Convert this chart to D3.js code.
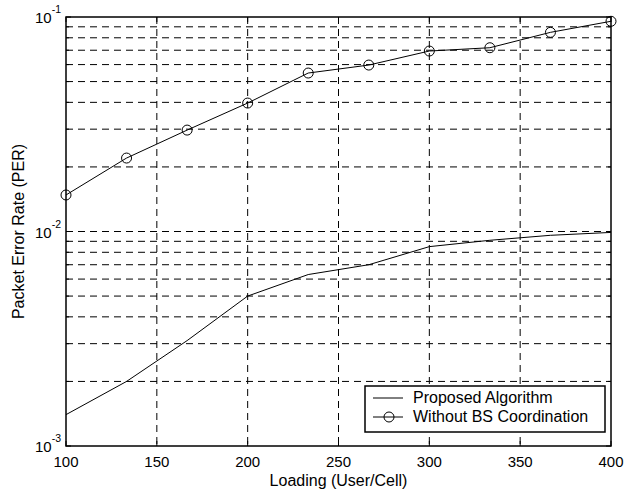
<!DOCTYPE html>
<html>
<head>
<meta charset="utf-8">
<script src="https://cdn.jsdelivr.net/npm/d3@7"></script>
<style>
  body { margin: 0; background: #fff; }
  text { font-family: Arial, "Liberation Sans", Helvetica, sans-serif; fill: #000; }
</style>
</head>
<body>
<div id="chart"></div>
<script>
// data
var loading = [100, 133.33, 166.67, 200, 233.33, 266.67, 300, 333.33, 366.67, 400];
var proposed = [0.0014, 0.002, 0.0031, 0.005, 0.0063, 0.007, 0.0085, 0.0091, 0.0096, 0.0099];
var withoutBS = [0.0148, 0.022, 0.0297, 0.0397, 0.0548, 0.0597, 0.0694, 0.0719, 0.0848, 0.0955];
var xTicks = [100, 150, 200, 250, 300, 350, 400];
var yMajor = [1e-3, 1e-2, 1e-1];
var yExp = ["-3", "-2", "-1"];

var W = 624, H = 497;
var padL = 66, padT = 17, padR = 611, padB = 446;

var svg = d3.select("#chart").append("svg")
  .attr("width", W).attr("height", H);

var x = d3.scaleLinear().domain([100, 400]).range([padL, padR]);
var y = d3.scaleLog().domain([1e-3, 1e-1]).range([padB, padT]);

// minor log positions
var yMinor = [];
[1e-3, 1e-2].forEach(function(d){
  for (var k = 2; k <= 9; k++) yMinor.push(d * k);
});

var grid = svg.append("g").attr("stroke", "#000").attr("stroke-width", 1)
  .attr("stroke-dasharray", "7,5").attr("fill", "none");

// horizontal grid
grid.selectAll("line.h")
  .data(yMinor.concat([1e-2]))
  .enter().append("line")
  .attr("x1", padL).attr("x2", padR)
  .attr("y1", function(d){ return y(d); })
  .attr("y2", function(d){ return y(d); });

// vertical grid
grid.selectAll("line.v")
  .data(xTicks.slice(1, -1))
  .enter().append("line")
  .attr("x1", function(d){ return x(d); })
  .attr("x2", function(d){ return x(d); })
  .attr("y1", padT).attr("y2", padB);

// ticks
var ticks = svg.append("g").attr("stroke", "#000").attr("stroke-width", 1);
xTicks.forEach(function(d){
  ticks.append("line").attr("x1", x(d)).attr("x2", x(d)).attr("y1", padB).attr("y2", padB - 5);
  ticks.append("line").attr("x1", x(d)).attr("x2", x(d)).attr("y1", padT).attr("y2", padT + 5);
});
yMajor.forEach(function(d){
  ticks.append("line").attr("x1", padL).attr("x2", padL + 5).attr("y1", y(d)).attr("y2", y(d));
  ticks.append("line").attr("x1", padR).attr("x2", padR - 5).attr("y1", y(d)).attr("y2", y(d));
});
yMinor.forEach(function(d){
  ticks.append("line").attr("x1", padL).attr("x2", padL + 3).attr("y1", y(d)).attr("y2", y(d));
  ticks.append("line").attr("x1", padR).attr("x2", padR - 3).attr("y1", y(d)).attr("y2", y(d));
});

// plot frame
svg.append("rect")
  .attr("x", padL).attr("y", padT)
  .attr("width", padR - padL).attr("height", padB - padT)
  .attr("fill", "none").attr("stroke", "#000").attr("stroke-width", 1.5);

// x tick labels
svg.selectAll("text.xt")
  .data(xTicks)
  .enter().append("text")
  .attr("x", function(d){ return x(d); })
  .attr("y", 466.5)
  .attr("text-anchor", "middle")
  .attr("font-size", "15px")
  .text(function(d){ return d; });

// y tick labels
yMajor.forEach(function(d, i){
  var t = svg.append("text")
    .attr("x", 61).attr("y", y(d) + 6)
    .attr("text-anchor", "end")
    .attr("font-size", "15px");
  t.append("tspan").text("10");
  t.append("tspan").attr("dy", -10).attr("font-size", "10.5px").text(yExp[i]);
});

// axis titles
svg.append("text")
  .attr("x", (padL + padR) / 2).attr("y", 486)
  .attr("text-anchor", "middle")
  .attr("font-size", "16px")
  .text("Loading (User/Cell)");

svg.append("text")
  .attr("transform", "translate(24," + ((padT + padB) / 2) + ") rotate(-90)")
  .attr("text-anchor", "middle")
  .attr("font-size", "16px")
  .text("Packet Error Rate (PER)");

// lines
var line = d3.line()
  .x(function(d){ return x(d[0]); })
  .y(function(d){ return y(d[1]); });

var propData = d3.zip(loading, proposed);
var wobsData = d3.zip(loading, withoutBS);

svg.append("path")
  .datum(propData)
  .attr("d", line)
  .attr("fill", "none").attr("stroke", "#000").attr("stroke-width", 1);

svg.append("path")
  .datum(wobsData)
  .attr("d", line)
  .attr("fill", "none").attr("stroke", "#000").attr("stroke-width", 1);

svg.selectAll("circle.m")
  .data(wobsData)
  .enter().append("circle")
  .attr("cx", function(d){ return x(d[0]); })
  .attr("cy", function(d){ return y(d[1]); })
  .attr("r", 5)
  .attr("fill", "none").attr("stroke", "#000").attr("stroke-width", 1);

// legend
var lg = svg.append("g");
lg.append("rect")
  .attr("x", 365).attr("y", 386)
  .attr("width", 240).attr("height", 46)
  .attr("fill", "#fff").attr("stroke", "#000").attr("stroke-width", 1.5);
lg.append("line").attr("x1", 373).attr("x2", 403).attr("y1", 398).attr("y2", 398)
  .attr("stroke", "#000");
lg.append("line").attr("x1", 373).attr("x2", 403).attr("y1", 417).attr("y2", 417)
  .attr("stroke", "#000");
lg.append("circle").attr("cx", 389).attr("cy", 417).attr("r", 5)
  .attr("fill", "none").attr("stroke", "#000");
lg.append("text").attr("x", 413).attr("y", 403).attr("font-size", "16px").text("Proposed Algorithm");
lg.append("text").attr("x", 413).attr("y", 422).attr("font-size", "16px").text("Without BS Coordination");
</script>
</body>
</html>
